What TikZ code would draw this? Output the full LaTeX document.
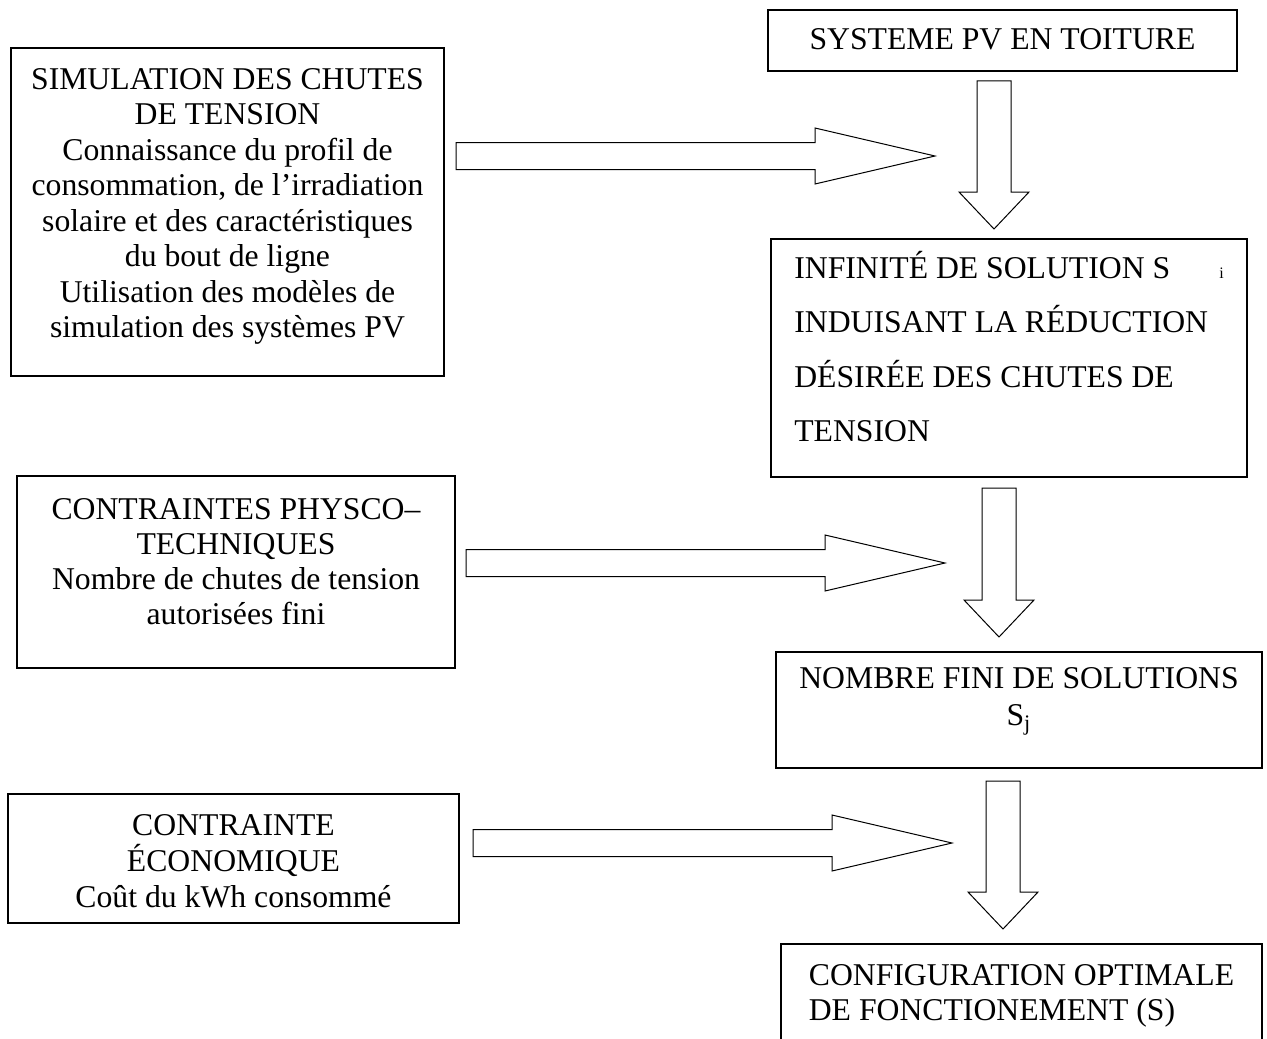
\documentclass[tikz,border=0pt]{standalone}
\usepackage{fontspec}
\setmainfont{Liberation Serif}
\usetikzlibrary{calc}

\tikzset{
  stage/.style={draw,rectangle,line width=0.7pt,inner sep=0pt,outer sep=0pt,anchor=north west,
    align=center,font=\fontsize{15.85}{17.75}\selectfont},
  blockarr/.style={draw,line width=0.5pt,fill=white}
}

% hollow arrow to the right, from tail to tip
\newcommand{\rightblock}[2]{%
  \draw[blockarr] let \p1=(#1), \p2=(#2) in
    (\x1,\y1+6.75pt) -- (\x2-60pt,\y1+6.75pt) -- (\x2-60pt,\y1+14pt) -- (\x2,\y2)
    -- (\x2-60pt,\y1-14pt) -- (\x2-60pt,\y1-6.75pt) -- (\x1,\y1-6.75pt) -- cycle;}
% hollow arrow downwards, from tail to tip
\newcommand{\downblock}[2]{%
  \draw[blockarr] let \p1=(#1), \p2=(#2) in
    (\x1-8.5pt,\y1) -- (\x1+8.5pt,\y1) -- (\x1+8.5pt,\y2+18.5pt) -- (\x1+17.5pt,\y2+18.5pt)
    -- (\x1,\y2) -- (\x1-17.5pt,\y2+18.5pt) -- (\x1-8.5pt,\y2+18.5pt) -- cycle;}

\begin{document}
\begin{tikzpicture}[x=0.5pt,y=-0.5pt]
\path[use as bounding box] (0,0) rectangle (1267,1038);
\clip (0,0) rectangle (1267,1038);

% Right column
\node[stage,minimum width=234.5pt,text height=20pt,text depth=10.5pt] (pv) at (768,10) {SYSTEME PV EN TOITURE};
\node[stage,align=left,minimum width=238pt,text height=101.25pt,text depth=17.75pt,
  font=\fontsize{15.85}{27.25}\selectfont] (inf) at (771,239)
  {INFINITÉ DE SOLUTION S\hspace{24.5pt}{\fontsize{8}{8}\selectfont i}\\INDUISANT LA RÉDUCTION\\DÉSIRÉE DES CHUTES DE\\TENSION};
\node[stage,minimum width=243pt,text height=36.5pt,text depth=21.5pt,
  font=\fontsize{15.85}{18.5}\selectfont] (fin) at (776,652)
  {NOMBRE FINI DE SOLUTIONS\\S\textsubscript{j}};
\node[stage,align=left,minimum width=240.5pt,text height=38pt,text depth=30pt,
  font=\fontsize{15.85}{17.5}\selectfont] (opt) at (781,944)
  {CONFIGURATION OPTIMALE\\DE FONCTIONEMENT (S)};

% Left column
\node[stage,minimum width=216.5pt,text height=144.75pt,text depth=19.25pt] (sim) at (11,48)
  {SIMULATION DES CHUTES\\DE TENSION\\Connaissance du profil de\\consommation, de l’irradiation\\solaire et des caractéristiques\\du bout de ligne\\Utilisation des modèles de\\simulation des systèmes PV};
\node[stage,minimum width=219pt,text height=74pt,text depth=22pt,
  font=\fontsize{15.85}{17.5}\selectfont] (phy) at (17,476)
  {CONTRAINTES PHYSCO–\\TECHNIQUES\\Nombre de chutes de tension\\autorisées fini};
\node[stage,minimum width=225.5pt,text height=56.5pt,text depth=8pt,
  font=\fontsize{15.85}{18}\selectfont] (eco) at (8,794)
  {CONTRAINTE\\ÉCONOMIQUE\\Coût du kWh consommé};

% Arrows
\coordinate (r1a) at (456,156);
\coordinate (r1b) at (935,156);
\coordinate (r2a) at (466,563);
\coordinate (r2b) at (945,563);
\coordinate (r3a) at (473,843);
\coordinate (r3b) at (952,843);
\coordinate (d1a) at ($(pv.south)+(-8.5,10)$);
\coordinate (d1b) at ($(d1a |- inf.north)+(0,-10)$);
\coordinate (d2a) at ($(inf.south)+(-10,11)$);
\coordinate (d2b) at ($(d2a |- fin.north)+(0,-15)$);
\coordinate (d3a) at ($(fin.south)+(-16,13)$);
\coordinate (d3b) at ($(d3a |- opt.north)+(0,-15)$);

\rightblock{r1a}{r1b}
\rightblock{r2a}{r2b}
\rightblock{r3a}{r3b}
\downblock{d1a}{d1b}
\downblock{d2a}{d2b}
\downblock{d3a}{d3b}
\end{tikzpicture}
\end{document}
